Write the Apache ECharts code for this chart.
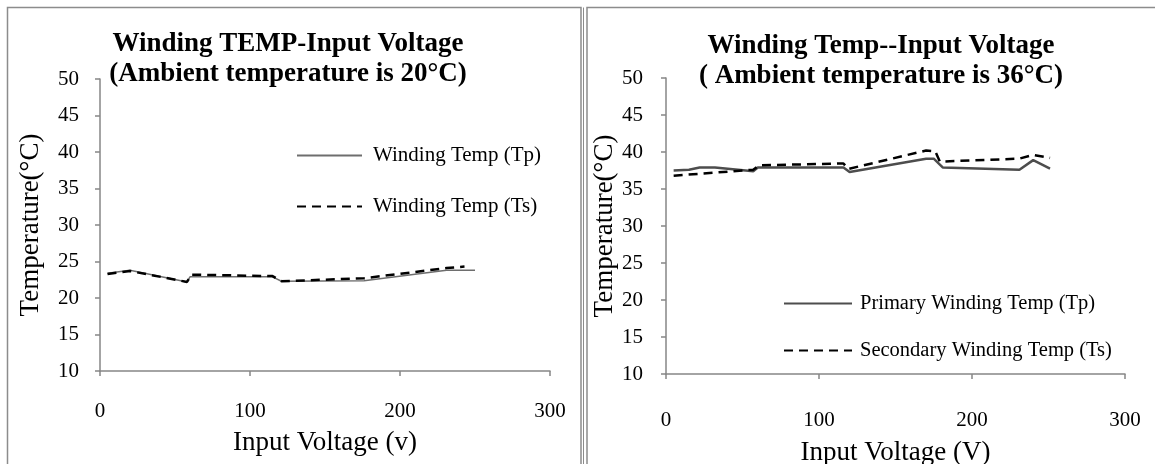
<!DOCTYPE html>
<html>
<head>
<meta charset="utf-8">
<script src="https://cdn.jsdelivr.net/npm/echarts@6/dist/echarts.min.js"></script>
<style>
  html, body { margin: 0; padding: 0; background: #fff; }
  #main { width: 1155px; height: 464px; }
</style>
</head>
<body>
<div id="main"></div>
<script>
// 左图：环境温度 20°C
var leftTp = [[5, 23.4], [20, 23.8], [58, 22.2], [60, 22.9], [115, 22.9], [121, 22.3], [176, 22.35], [231, 23.8], [250, 23.8]];
var leftTs = [[5, 23.3], [20, 23.7], [58, 22.2], [61, 23.2], [115, 23.0], [121, 22.3], [176, 22.7], [231, 24.1], [243, 24.3]];
// 右图：环境温度 36°C
var rightTp = [[5, 37.5], [15, 37.6], [22, 37.9], [32, 37.9], [57, 37.4], [60, 37.9], [116, 37.9], [120, 37.3], [170, 39.1], [175, 39.1], [181, 37.9], [231, 37.6], [240, 38.9], [251, 37.75]];
var rightTs = [[5, 36.8], [57, 37.6], [61, 38.2], [116, 38.45], [119, 37.7], [170, 40.2], [176, 40.1], [179, 38.7], [231, 39.1], [240, 39.6], [251, 39.2]];

var xTicks = [0, 100, 200, 300];
var yTicks = [10, 15, 20, 25, 30, 35, 40, 45, 50];

var leftTitle = 'Winding TEMP-Input Voltage\n(Ambient temperature is 20°C)';
var rightTitle = 'Winding Temp--Input Voltage\n( Ambient temperature is 36°C)';
var leftNames = ['Winding Temp (Tp)', 'Winding Temp (Ts)'];
var rightNames = ['Primary Winding Temp (Tp)', 'Secondary Winding Temp (Ts)'];

var font = 'Liberation Serif';
var axisColor = '#868686';
var dash = [9, 6];

function xAxisOpt(gridIndex, name, labelMargin, nameGap) {
  return {
    gridIndex: gridIndex,
    type: 'value',
    min: xTicks[0],
    max: xTicks[xTicks.length - 1],
    interval: 100,
    name: name,
    nameLocation: 'middle',
    nameGap: nameGap,
    nameTextStyle: { fontFamily: font, fontSize: 27, color: '#000' },
    axisLine: { show: true, lineStyle: { color: axisColor, width: 1.5 } },
    axisTick: { show: true, length: 5, lineStyle: { color: axisColor, width: 1.5 } },
    axisLabel: { margin: labelMargin, fontFamily: font, fontSize: 21, color: '#000' },
    splitLine: { show: false }
  };
}

function yAxisOpt(gridIndex, nameGap, labelMargin) {
  return {
    gridIndex: gridIndex,
    type: 'value',
    min: yTicks[0],
    max: yTicks[yTicks.length - 1],
    interval: 5,
    name: 'Temperature(°C)',
    nameLocation: 'middle',
    nameRotate: 90,
    nameGap: nameGap,
    nameTextStyle: { fontFamily: font, fontSize: 27, color: '#000' },
    axisLine: { show: true, lineStyle: { color: axisColor, width: 1.5 } },
    axisTick: { show: true, length: 5, lineStyle: { color: axisColor, width: 1.5 } },
    axisLabel: { margin: labelMargin, fontFamily: font, fontSize: 21, color: '#000' },
    splitLine: { show: false }
  };
}

function lineSeries(name, data, idx, color, width, type) {
  return {
    name: name,
    type: 'line',
    xAxisIndex: idx,
    yAxisIndex: idx,
    data: data,
    symbol: 'none',
    smooth: false,
    lineStyle: { color: color, width: width, type: type },
    itemStyle: { color: color },
    z: type === 'solid' ? 2 : 3
  };
}

var chart = echarts.init(document.getElementById('main'));

var option = {
  animation: false,
  backgroundColor: '#fff',
  title: [
    {
      text: leftTitle, left: 283, top: 24, textAlign: 'center',
      textStyle: { fontFamily: font, fontSize: 27, fontWeight: 'bold', color: '#000', lineHeight: 30 }
    },
    {
      text: rightTitle, left: 876, top: 26, textAlign: 'center',
      textStyle: { fontFamily: font, fontSize: 27, fontWeight: 'bold', color: '#000', lineHeight: 30 }
    }
  ],
  legend: [
    {
      data: leftNames, orient: 'vertical', left: 296, top: 145, padding: 0,
      itemWidth: 65, itemHeight: 20, itemGap: 30,
      itemStyle: { opacity: 0 },
      textStyle: { fontFamily: font, fontSize: 21, color: '#000', padding: [0, 0, 0, 6] }
    },
    {
      data: rightNames, orient: 'vertical', left: 783, top: 293, padding: 0,
      itemWidth: 68, itemHeight: 20, itemGap: 26,
      itemStyle: { opacity: 0 },
      textStyle: { fontFamily: font, fontSize: 20.5, color: '#000', padding: [0, 0, 0, 3] }
    }
  ],
  grid: [
    { left: 100, right: 605, top: 79, bottom: 93, outerBoundsMode: 'none', containLabel: false },
    { left: 666, right: 30, top: 78, bottom: 90, outerBoundsMode: 'none', containLabel: false }
  ],
  xAxis: [
    xAxisOpt(0, 'Input Voltage (v)', 30, 58),
    xAxisOpt(1, 'Input Voltage (V)', 36, 65)
  ],
  yAxis: [
    yAxisOpt(0, 56, 21),
    yAxisOpt(1, 44, 23)
  ],
  series: [
    lineSeries(leftNames[0], leftTp, 0, '#6e6e6e', 1.5, 'solid'),
    lineSeries(leftNames[1], leftTs, 0, '#000', 2.5, dash),
    lineSeries(rightNames[0], rightTp, 1, '#4d4d4d', 2.5, 'solid'),
    lineSeries(rightNames[1], rightTs, 1, '#000', 2.5, dash)
  ],
  graphic: [
    // 左侧面板边框
    { type: 'polyline', shape: { points: [[7.5, 470], [7.5, 7.5], [581, 7.5], [581, 470]] }, style: { stroke: '#8c8c8c', lineWidth: 1.5, fill: null }, silent: true },
    { type: 'line', shape: { x1: 583.5, y1: 7.5, x2: 583.5, y2: 470 }, style: { stroke: '#8c8c8c', lineWidth: 1 }, silent: true },
    // 右侧面板边框
    { type: 'polyline', shape: { points: [[587, 470], [587, 7.5], [1160, 7.5]] }, style: { stroke: '#8c8c8c', lineWidth: 1.5, fill: null }, silent: true }
  ]
};

chart.setOption(option);
</script>
</body>
</html>
